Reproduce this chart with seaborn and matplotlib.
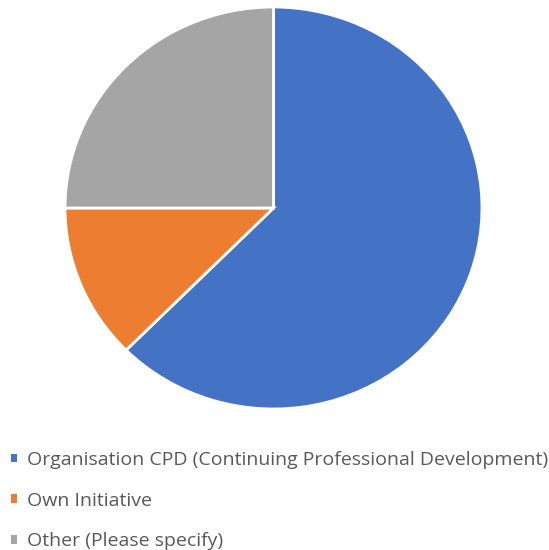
import matplotlib
matplotlib.use("Agg")
import matplotlib.pyplot as plt
import seaborn as sns

# Sources of training
categories = [
    "Organisation CPD (Continuing Professional Development)",
    "Own Initiative",
    "Other (Please specify)",
]
counts = [5, 1, 2]
colors = ["#4472C4", "#ED7D31", "#A5A5A5"]

sns.set_theme(style="white")
plt.rcParams["font.family"] = ["Open Sans", "DejaVu Sans"]

W, H = 549, 550
fig = plt.figure(figsize=(W / 100, H / 100), dpi=100)

# pie area in pixel coordinates (left, top, right, bottom)
x0, y0, x1, y1 = 64, 6, 483, 410
ax = fig.add_axes([x0 / W, 1 - y1 / H, (x1 - x0) / W, (y1 - y0) / H])
wedges, _ = ax.pie(
    counts,
    colors=colors,
    startangle=90,
    counterclock=False,
    radius=1,
    wedgeprops=dict(edgecolor="white", linewidth=2),
)
ax.set_aspect("auto")
ax.set_xlim(-1.005, 1.005)
ax.set_ylim(-1.005, 1.005)
ax.axis("off")

leg = fig.legend(
    wedges,
    categories,
    loc="upper left",
    bbox_to_anchor=(11 / W, 1 - 451 / H),
    frameon=False,
    fontsize=14,
    handlelength=0.32,
    handleheight=0.32,
    handletextpad=0.5,
    labelspacing=1.17,
    borderaxespad=0,
    borderpad=0,
)
for t in leg.get_texts():
    t.set_color("#595959")
for h in leg.legend_handles:
    h.set_linewidth(0)

fig.savefig("out.png", dpi=100)
